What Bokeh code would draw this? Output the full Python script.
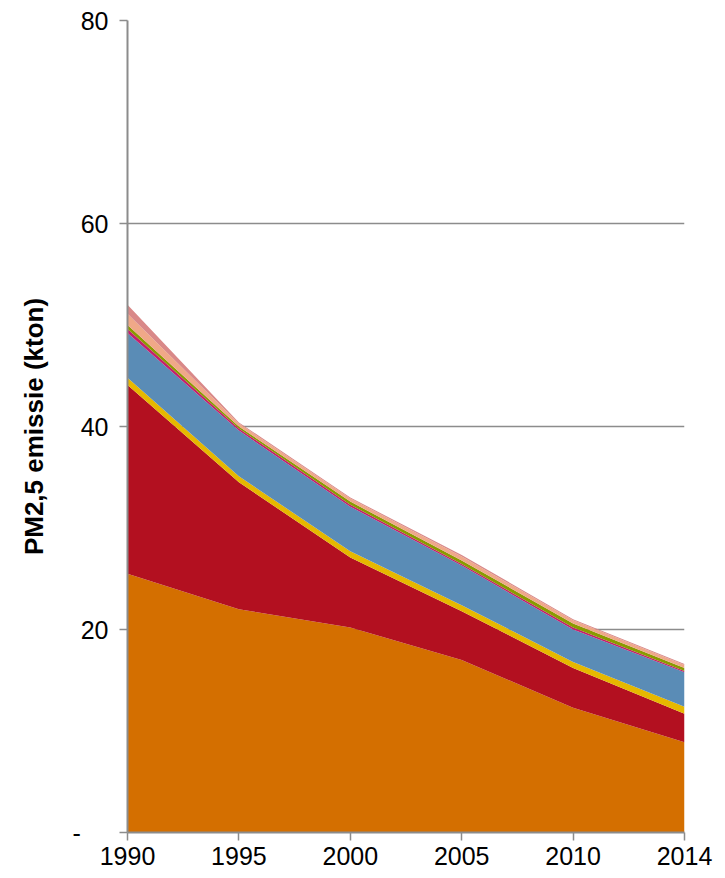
from bokeh.plotting import figure
from bokeh.models import Range1d, FixedTicker, ColumnDataSource
from bokeh.embed import file_html
from bokeh.resources import INLINE

years = ["1990", "1995", "2000", "2005", "2010", "2014"]
orange = [25.5, 22.0, 20.2, 17.0, 12.3, 8.9]
red = [18.6, 12.5, 6.9, 4.8, 3.9, 2.8]
yellow = [0.7, 0.6, 0.6, 0.6, 0.6, 0.7]
blue = [4.4, 4.5, 4.4, 3.9, 3.2, 3.4]
magenta = [0.4, 0.2, 0.2, 0.15, 0.2, 0.1]
green = [0.4, 0.2, 0.3, 0.35, 0.4, 0.3]
salmon = [1.1, 0.3, 0.3, 0.4, 0.3, 0.3]
pink = [0.9, 0.1, 0.1, 0.15, 0.1, 0.1]

names = ["orange", "red", "yellow", "blue", "magenta", "green", "salmon", "pink"]
colors = ["#D46F00", "#B31020", "#E6B800", "#5A8CB6", "#C41F6C", "#8A9A00", "#F0A888", "#D98888"]

src = ColumnDataSource(dict(
    x=list(range(len(years))),
    orange=orange, red=red, yellow=yellow, blue=blue,
    magenta=magenta, green=green, salmon=salmon, pink=pink,
))

p = figure(width=715, height=876, output_backend="svg", toolbar_location=None,
           x_range=Range1d(0, len(years) - 1), y_range=Range1d(0, 80),
           min_border_left=127, min_border_right=31, min_border_top=20, min_border_bottom=44)

p.varea_stack(stackers=names, x="x", color=colors, source=src)

p.outline_line_color = None
p.background_fill_color = "white"
p.border_fill_color = "white"

gray = "#8C8C8C"
font = "Liberation Sans"

p.xgrid.visible = False
p.ygrid.grid_line_color = gray
p.ygrid.grid_line_width = 1.5
p.ygrid.ticker = FixedTicker(ticks=[20, 40, 60, 80])

p.xaxis.ticker = FixedTicker(ticks=list(range(len(years))))
p.xaxis.major_label_overrides = {i: y for i, y in enumerate(years)}
p.xaxis.axis_line_color = gray
p.xaxis.axis_line_width = 2
p.xaxis.major_tick_line_color = gray
p.xaxis.major_tick_line_width = 1.5
p.xaxis.major_tick_out = 8
p.xaxis.major_tick_in = 0
p.xaxis.minor_tick_line_color = None
p.xaxis.major_label_text_font = font
p.xaxis.major_label_text_font_size = "25px"
p.xaxis.major_label_text_color = "black"
p.xaxis.major_label_standoff = 6

p.yaxis.ticker = FixedTicker(ticks=[0, 20, 40, 60, 80])
p.yaxis.major_label_overrides = {0: "-\u00a0\u00a0\u00a0\u00a0"}
p.yaxis.axis_line_color = gray
p.yaxis.axis_line_width = 2
p.yaxis.major_tick_line_color = gray
p.yaxis.major_tick_line_width = 1.5
p.yaxis.major_tick_out = 8
p.yaxis.major_tick_in = 0
p.yaxis.minor_tick_line_color = None
p.yaxis.major_label_text_font = font
p.yaxis.major_label_text_font_size = "25px"
p.yaxis.major_label_text_color = "black"
p.yaxis.major_label_standoff = 11
p.yaxis.axis_label = "PM2,5 emissie (kton)"
p.yaxis.axis_label_text_font = font
p.yaxis.axis_label_text_font_size = "26px"
p.yaxis.axis_label_text_font_style = "bold"
p.yaxis.axis_label_text_color = "black"
p.yaxis.axis_label_standoff = 20

open("out.html", "w").write(file_html(p, INLINE))
